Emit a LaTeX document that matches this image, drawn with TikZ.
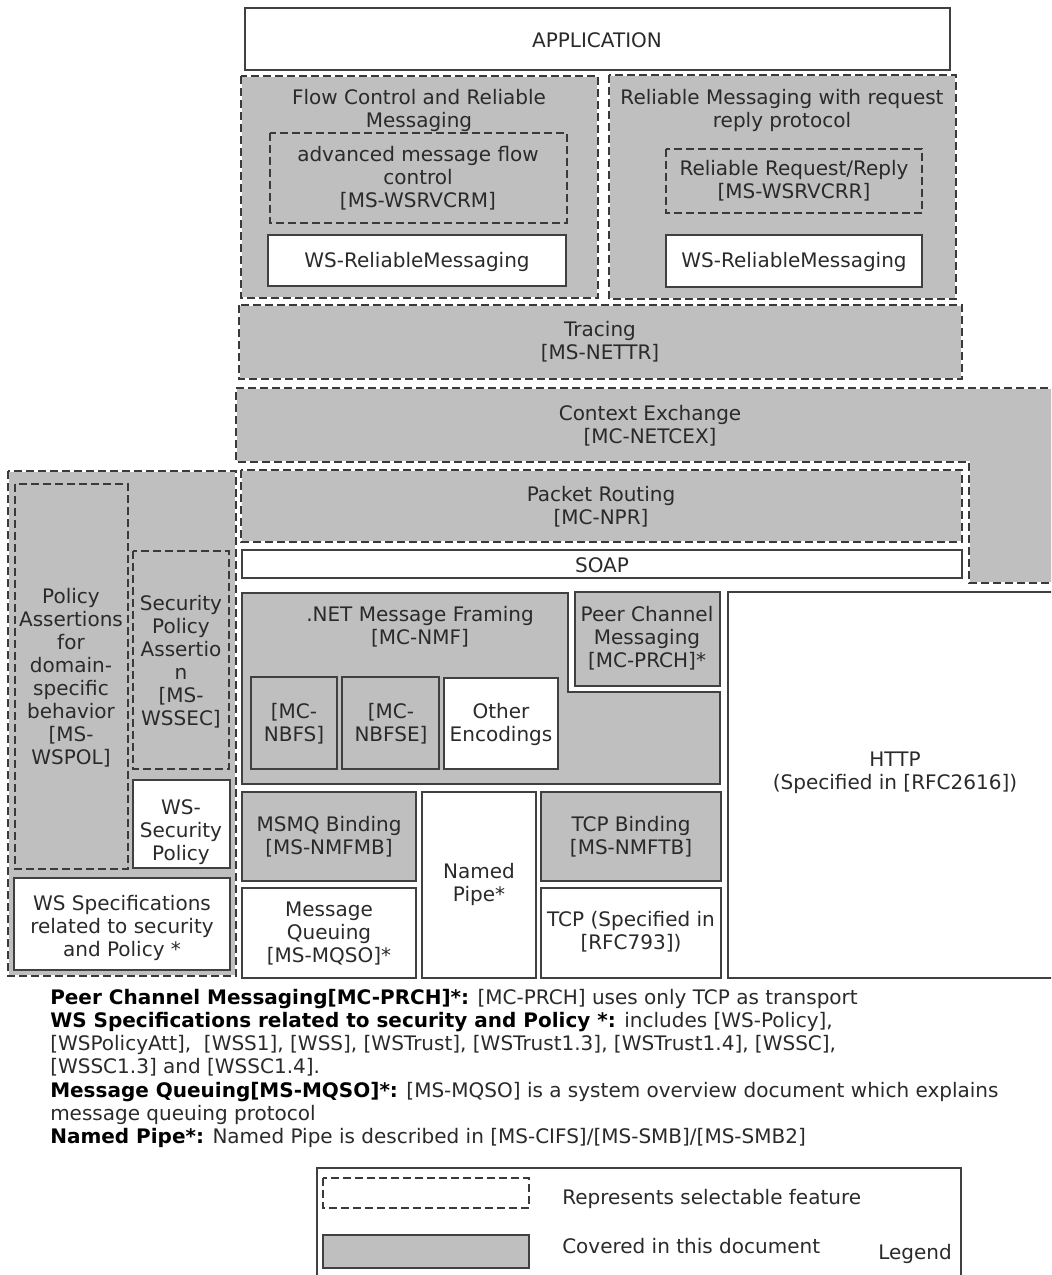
\documentclass[tikz,border=0pt]{standalone}
\usepackage{fontspec}
\setmainfont{DejaVu Sans}
\definecolor{boxgrey}{HTML}{BFBFBF}
\definecolor{edge}{HTML}{404040}
\definecolor{dashink}{HTML}{3A3A3A}
\definecolor{ink}{HTML}{2A2A2A}
\begin{document}
\begin{tikzpicture}[x=0.75pt,y=-0.75pt,
  every node/.style={inner sep=0pt, text=ink, align=center},
  lbl/.style={font=\fontsize{15}{17.25}\selectfont},
  note/.style={font=\fontsize{15}{17.25}\selectfont, anchor=base west, align=left},
  legtext/.style={font=\fontsize{15}{17.25}\selectfont, anchor=west},
  plain/.style={fill=white, draw=edge, line width=1.5pt},
  covered/.style={fill=boxgrey, draw=edge, line width=1.5pt},
  optional/.style={fill=boxgrey, draw=white, line width=1.6pt,
    postaction={draw=dashink, line width=1.6pt, dash pattern=on 6pt off 3pt}},
  optionalin/.style={fill=boxgrey, draw=dashink, line width=1.6pt, dash pattern=on 6pt off 3pt},
  optline/.style={draw=white, line width=1.6pt,
    postaction={draw=dashink, line width=1.6pt, dash pattern=on 6pt off 3pt}},
  sample/.style={fill=white, draw=dashink, line width=1.4pt, dash pattern=on 6pt off 3pt},
  frame/.style={draw=edge, line width=1.2pt},
]
\useasboundingbox (0,0) rectangle (1051,1275);
\clip (0,0) rectangle (1051,1275);
\fill[white] (0,0) rectangle (1051,1275);

% application layer
\draw[plain] (245,8) rectangle (950,70);
\node[lbl] (app) at (597,40) {APPLICATION};

% flow control stack
\draw[optional] (241,76) rectangle (598,298);
\node[lbl] (fcrm) at (419,110) {Flow Control and Reliable\\Messaging};
\draw[optionalin] (270,133) rectangle (567,223);
\node[lbl] (amfc) at (418,178) {advanced message flow\\control\\{}[MS-WSRVCRM]};
\draw[plain] (268,235) rectangle (566,286);
\node[lbl] (wsrmA) at (417,262) {WS-ReliableMessaging};

% request/reply stack
\draw[optional] (609,75) rectangle (956,299);
\node[lbl] (rmrr) at (782,110) {Reliable Messaging with request\\reply protocol};
\draw[optionalin] (666,149) rectangle (922,213);
\node[lbl] (rrr) at (794,181) {Reliable Request/Reply\\{}[MS-WSRVCRR]};
\draw[plain] (666,235) rectangle (922,287);
\node[lbl] (wsrmB) at (794,262) {WS-ReliableMessaging};

% tracing
\draw[optional] (239,305) rectangle (962,379);
\node[lbl] (trace) at (600,342) {Tracing\\{}[MS-NETTR]};

% context exchange (L-shaped)
\fill[boxgrey] (236,388) -- (1060,388) -- (1060,583) -- (969,583) -- (969,462) -- (236,462) -- cycle;
\draw[optline] (1060,388) -- (236,388) -- (236,462) -- (969,462) -- (969,583) -- (1060,583);
\node[lbl] (ctx) at (650,426) {Context Exchange\\{}[MC-NETCEX]};

% policy column
\draw[optional] (8,471) rectangle (236,976);
\draw[optionalin] (15,484) rectangle (128,869);
\node[lbl] (polas) at (71,678) {Policy\\Assertions\\for\\domain-\\specific\\behavior\\{}[MS-\\WSPOL]};
\draw[optionalin] (133,551) rectangle (229,769);
\node[lbl] (secpa) at (181,662) {Security\\Policy\\Assertio\\n\\{}[MS-\\WSSEC]};
\draw[plain] (133,780) rectangle (230,868);
\node[lbl] (wssp) at (181,832) {WS-\\Security\\Policy};
\draw[plain] (14,878) rectangle (230,970);
\node[lbl] (wsspec) at (122,928) {WS Specifications\\related to security\\and Policy *};

% routing and SOAP
\draw[optional] (241,470) rectangle (962,542);
\node[lbl] (route) at (601,507) {Packet Routing\\{}[MC-NPR]};
\draw[plain] (242,550) rectangle (962,578);
\node[lbl] (soap) at (602,565) {SOAP};

% message framing
\draw[covered] (242,593) -- (568,593) -- (568,692) -- (720,692) -- (720,784) -- (242,784) -- cycle;
\node[lbl] (nmf) at (420,627) {.NET Message Framing\\{}[MC-NMF]};
\draw[covered] (575,592) rectangle (720,686);
\node[lbl] (peer) at (647,638) {Peer Channel\\Messaging\\{}[MC-PRCH]*};
\draw[covered] (251,677) rectangle (337,769);
\node[lbl] (nbfs) at (294,724) {[MC-\\NBFS]};
\draw[covered] (342,677) rectangle (439,769);
\node[lbl] (nbfse) at (391,724) {[MC-\\NBFSE]};
\draw[plain] (444,678) rectangle (558,769);
\node[lbl] (otherenc) at (501,724) {Other\\Encodings};

% bindings and transports
\draw[covered] (242,792) rectangle (416,881);
\node[lbl] (msmqb) at (329,837) {MSMQ Binding\\{}[MS-NMFMB]};
\draw[plain] (242,888) rectangle (416,978);
\node[lbl] (mq) at (329,934) {Message\\Queuing\\{}[MS-MQSO]*};
\draw[plain] (422,792) rectangle (536,978);
\node[lbl] (pipe) at (479,884) {Named\\Pipe*};
\draw[covered] (541,792) rectangle (721,881);
\node[lbl] (tcpb) at (631,837) {TCP Binding\\{}[MS-NMFTB]};
\draw[plain] (541,888) rectangle (721,978);
\node[lbl] (tcp) at (631,932) {TCP (Specified in\\{}[RFC793])};
\draw[plain] (728,592) rectangle (1060,978);
\node[lbl] (http) at (895,773) {HTTP\\(Specified in [RFC2616])};

% footnotes
\node[note] (noteA) at (50,1004) {\textbf{\color{black}Peer Channel Messaging[MC-PRCH]*:} [MC-PRCH] uses only TCP as transport};
\node[note] (noteB) at (50,1027) {\textbf{\color{black}WS Specifications related to security and Policy *:} includes [WS-Policy],};
\node[note] (noteC) at (50,1050) {[WSPolicyAtt],\ \ [WSS1], [WSS], [WSTrust], [WSTrust1.3], [WSTrust1.4], [WSSC],};
\node[note] (noteD) at (50,1073) {[WSSC1.3] and [WSSC1.4].};
\node[note] (noteE) at (50,1097) {\textbf{\color{black}Message Queuing[MS-MQSO]*:} [MS-MQSO] is a system overview document which explains};
\node[note] (noteF) at (50,1120) {message queuing protocol};
\node[note] (noteG) at (50,1143) {\textbf{\color{black}Named Pipe*:} Named Pipe is described in [MS-CIFS]/[MS-SMB]/[MS-SMB2]};

% legend
\draw[frame] (317,1290) -- (317,1168) -- (961,1168) -- (961,1290);
\draw[sample] (323,1178) rectangle (529,1208);
\node[legtext] (lsel) at (562,1199) {Represents selectable feature};
\draw[covered] (323,1235) rectangle (529,1268);
\node[legtext] (lcov) at (562,1246) {Covered in this document};
\node[legtext] (lname) at (878,1254) {Legend};
\end{tikzpicture}
\end{document}
